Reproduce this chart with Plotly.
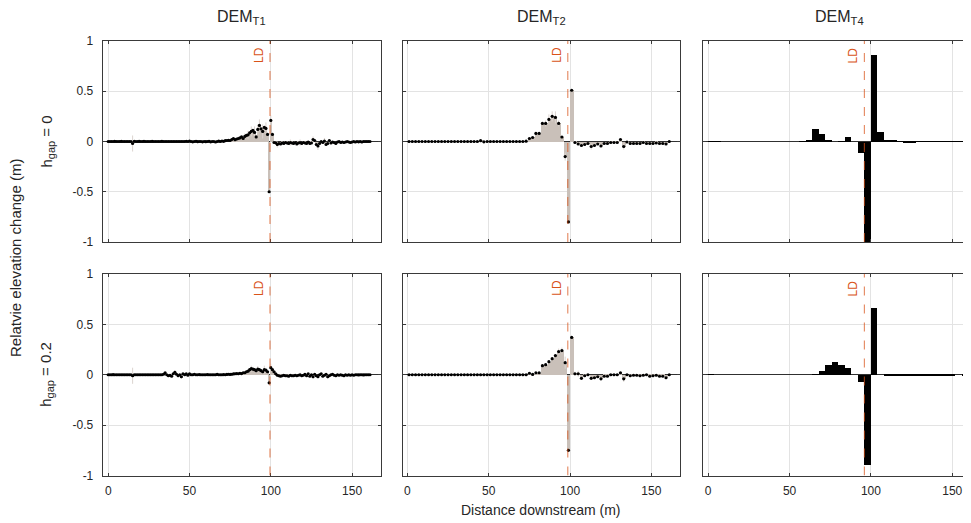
import plotly.graph_objects as go

# ---------------- data ----------------
col_titles = ["DEM<sub>T1</sub>", "DEM<sub>T2</sub>", "DEM<sub>T4</sub>"]
row_titles = ["h<sub><span style='font-size:11px'>gap</span></sub> = 0",
              "h<sub><span style='font-size:11px'>gap</span></sub> = 0.2"]
ld_pos = [99.5, 98.6, 96.0]

x_ticks = [0, 50, 100, 150]
x_tick_text = ["0", "50", "100", "150"]
y_ticks = [-1, -0.5, 0, 0.5, 1]
y_tick_text = ["-1", "-0.5", "0", "0.5", "1"]

# DEM_T1 : 1 m spacing
t1_x = list(range(0, 162))
t1_h0 = [
    0.0, 0.0, 0.0, 0.0, 0.001, 0.0, 0.0, 0.0, 0.001, 0.0,
    0.0, 0.0, 0.0, 0.0, 0.0, -0.02, 0.002, 0.0, 0.0, 0.001,
    0.0, 0.0, 0.001, 0.0, 0.0, 0.0, 0.0, 0.001, 0.0, 0.0,
    0.0, 0.0, 0.0, 0.001, 0.0, 0.0, 0.0, 0.0, 0.0, 0.0,
    0.0, 0.0, 0.0, 0.0, 0.0, 0.0, 0.0, 0.0, 0.002, 0.0,
    0.003, 0.0, -0.003, 0.0, 0.002, -0.002, 0.0, 0.0, -0.003, 0.0,
    -0.002, 0.0, 0.002, -0.003, 0.0, 0.0, -0.005, 0.0, 0.003, 0.0,
    0.005, 0.002, 0.008, 0.01, 0.012, 0.01, 0.02, 0.03, 0.018, 0.025,
    0.03, 0.036, 0.046, 0.03, 0.05, 0.06, 0.066, 0.086, 0.1, 0.11,
    0.09, 0.046, 0.12, 0.16, 0.126, 0.1, 0.14, 0.13, 0.07, -0.5,
    0.21, 0.07, -0.01, -0.013, -0.03, -0.02, -0.025, -0.015, -0.02, -0.01,
    -0.015, -0.02, -0.01, -0.015, -0.02, -0.01, -0.025, -0.015, -0.01, -0.02,
    -0.01, -0.015, -0.02, -0.005, -0.02, -0.015, 0.02, 0.01, -0.03, -0.045,
    -0.02, 0.0, -0.01, 0.005, -0.03, -0.02, 0.01, -0.015, -0.005, -0.01,
    -0.02, -0.005, 0.0, -0.01, -0.005, -0.01, -0.005, 0.0, -0.005, -0.01,
    -0.005, 0.0, -0.005, 0.0, -0.003, 0.0, -0.005, 0.0, 0.0, 0.0,
    0.0, 0.0,
]
t1_h02 = [
    0.0, 0.0, 0.0, 0.001, 0.0, 0.0, 0.0, 0.0, 0.0, 0.0,
    0.0, 0.0, 0.0, 0.0, 0.0, -0.01, 0.0, 0.0, 0.0, 0.0,
    0.0, 0.0, 0.0, 0.0, 0.0, 0.0, 0.0, 0.0, 0.0, 0.0,
    0.0, 0.0, 0.0, 0.0, 0.005, 0.02, 0.0, -0.01, -0.005, -0.015,
    0.01, 0.025, 0.005, -0.01, 0.0, -0.02, 0.01, 0.0, 0.01, -0.005,
    0.01, 0.0, 0.0, 0.005, 0.0, 0.0, 0.002, 0.0, 0.0, 0.0,
    0.0, 0.002, 0.0, 0.0, 0.0, 0.0, 0.0, 0.003, 0.0, 0.0,
    0.0, 0.002, 0.0, 0.003, 0.005, 0.003, 0.005, 0.008, 0.01, 0.012,
    0.01, 0.015, 0.012, 0.02, 0.02, 0.03, 0.035, 0.05, 0.06, 0.055,
    0.05, 0.04, 0.055, 0.05, 0.04, 0.03, 0.05, 0.045, 0.03, -0.08,
    0.07, 0.05, 0.03, 0.01, -0.005, -0.01, -0.015, -0.01, -0.005, -0.01,
    -0.01, -0.015, -0.005, -0.01, -0.01, -0.005, -0.01, -0.005, 0.0, -0.01,
    -0.005, 0.005, -0.01, 0.01, -0.015, 0.0, -0.02, 0.005, -0.01, -0.02,
    0.0, 0.01, -0.015, -0.005, 0.005, -0.02, -0.01, 0.0, 0.005, -0.005,
    -0.01, 0.0, -0.005, 0.0, -0.005, -0.01, 0.0, -0.005, 0.0, -0.005,
    0.0, -0.005, 0.0, 0.0, -0.002, 0.0, 0.0, -0.002, 0.0, 0.0,
    0.0, 0.0,
]
t1_h0_err_x = [15, 84, 86, 88, 90, 92, 93, 95, 97, 100, 104, 112, 118, 126, 129, 133]
t1_h0_err = [0.08, 0.03, 0.04, 0.05, 0.06, 0.05, 0.06, 0.07, 0.06, 0.05, 0.03, 0.03, 0.03, 0.03, 0.04, 0.03]
t1_h02_err_x = [15, 41, 45, 88, 92, 96, 100, 118, 126, 135]
t1_h02_err = [0.08, 0.02, 0.02, 0.03, 0.03, 0.04, 0.04, 0.02, 0.02, 0.02]

# DEM_T2 : 2 m spacing
t2_x = list(range(1, 162, 2))
t2_h0 = [
    0.0, 0.0, 0.0, 0.0, 0.0, 0.0, 0.0, 0.0, 0.0, 0.0,
    0.0, 0.0, 0.0, 0.0, 0.0, 0.0, 0.0, 0.0, 0.0, 0.0,
    0.0, 0.0, 0.008, -0.003, 0.0, 0.0, 0.0, 0.0, 0.0, 0.0,
    0.0, 0.0, 0.0, 0.0, 0.0, 0.0, 0.003, 0.03, 0.04, 0.08,
    0.08, 0.18, 0.18, 0.22, 0.25, 0.24, 0.18, 0.045, -0.15, -0.8,
    0.51, -0.01, -0.025, -0.04, -0.03, -0.02, -0.05, -0.04, -0.025, -0.045,
    -0.02, -0.02, -0.01, -0.01, -0.01, 0.02, -0.05, -0.005, -0.02, -0.02,
    -0.02, -0.02, -0.01, -0.02, -0.02, -0.02, -0.015, -0.02, -0.02, -0.025,
    0.0,
]
t2_h02 = [
    0.0, 0.0, 0.0, 0.0, 0.0, 0.0, 0.0, 0.0, 0.0, 0.0,
    0.0, 0.0, 0.0, 0.0, 0.0, 0.0, 0.0, 0.0, 0.0, 0.0,
    0.0, 0.0, 0.0, 0.0, 0.0, 0.0, 0.0, 0.0, 0.0, 0.0,
    0.0, 0.0, 0.0, 0.0, 0.0, 0.0, 0.0, 0.015, 0.003, 0.02,
    0.02, 0.09, 0.1, 0.13, 0.16, 0.19, 0.23, 0.24, 0.12, -0.75,
    0.37, 0.01, 0.01, -0.035, -0.01, 0.0, -0.035, -0.03, -0.02, -0.04,
    -0.015, -0.015, 0.0, 0.0, 0.0, 0.02, -0.04, 0.0, -0.01, -0.005,
    -0.005, -0.01, -0.005, 0.0, -0.015, -0.01, -0.005, -0.015, -0.015, -0.03,
    0.0,
]
t2_h0_err_x = [85, 87, 89, 91, 93, 97, 113, 133]
t2_h0_err = [0.03, 0.05, 0.05, 0.06, 0.03, 0.04, 0.03, 0.03]
t2_h02_err_x = [93, 95, 97, 103, 105, 133]
t2_h02_err = [0.03, 0.03, 0.06, 0.02, 0.03, 0.03]

# DEM_T4 : 4 m spacing
t4_x = list(range(2, 160, 4))
t4_h0 = [
    0.005, 0.003, 0.0, 0.0, 0.0, 0.0, 0.0, 0.0, 0.0, 0.0,
    0.0, 0.0, 0.0, 0.0, 0.005, 0.01, 0.12, 0.07, 0.01, 0.0,
    0.005, 0.04, 0.0, -0.11, -1.0, 0.86, 0.09, 0.015, 0.01, -0.005,
    -0.008, -0.008, -0.003, -0.005, -0.005, -0.005, -0.005, -0.004, -0.003, -0.005,
]
t4_h02 = [
    0.003, 0.0, 0.0, 0.0, 0.0, 0.0, 0.0, 0.0, 0.0, 0.0,
    0.0, 0.0, 0.0, 0.0, 0.0, 0.0, 0.005, 0.033, 0.1, 0.125,
    0.1, 0.066, 0.0, -0.073, -0.9, 0.667, 0.0, -0.008, -0.008, -0.008,
    -0.01, -0.008, -0.003, -0.005, -0.005, -0.005, -0.003, -0.003, 0.0, -0.003,
]

# ---------------- layout geometry ----------------
# the page body has an 8 px margin, so the figure is drawn from (8, 8)
OFF = 8
W, H = 971 - OFF, 523 - OFF
col_px = [(102.7, 380.7), (402.7, 680.0), (703.3, 971.0)]
row_px = [(41.0, 242.0), (274.0, 475.5)]
x_ranges = [[-3.4, 167.6], [-2.9, 167.6], [-3.0, 161.5]]
title_cx = [241.7, 541.3, 839.0]


def px_x(p):
    return (p - OFF) / W


def px_y(p):
    return 1 - (p - OFF) / H


FONT = "Liberation Sans, Arial, Helvetica, sans-serif"
AX = "#3a3a3a"
GRID = "#e3e3e3"
FILL = "#c9c0b9"
ERR = "#dcd4cf"
ORANGE = "#d95319"

fig = go.Figure()

panels = [
    (0, 0, t1_x, t1_h0, t1_h0_err_x, t1_h0_err, "dots", 1),
    (0, 1, t2_x, t2_h0, t2_h0_err_x, t2_h0_err, "dots", 2),
    (0, 2, t4_x, t4_h0, [], [], "bars", 4),
    (1, 0, t1_x, t1_h02, t1_h02_err_x, t1_h02_err, "dots", 1),
    (1, 1, t2_x, t2_h02, t2_h02_err_x, t2_h02_err, "dots", 2),
    (1, 2, t4_x, t4_h02, [], [], "bars", 4),
]

for i, (r, c, xs, ys, ex, ev, kind, bw) in enumerate(panels):
    n = i + 1
    xa = "x" if n == 1 else f"x{n}"
    ya = "y" if n == 1 else f"y{n}"
    if kind == "dots":
        fig.add_trace(go.Bar(x=xs, y=ys, width=bw, marker=dict(color=FILL, line=dict(width=0)),
                             xaxis=xa, yaxis=ya, showlegend=False, hoverinfo="skip"))
        emap = dict(zip(ex, ev))
        errs = [emap.get(v, 0.0) for v in xs]
        fig.add_trace(go.Scatter(x=xs, y=ys, mode="markers",
                                 marker=dict(color="black", size=3.2),
                                 error_y=dict(type="data", array=errs, visible=True,
                                              color=ERR, thickness=1, width=0),
                                 xaxis=xa, yaxis=ya, showlegend=False))
    else:
        fig.add_trace(go.Bar(x=xs, y=ys, width=bw, marker=dict(color="black", line=dict(width=0)),
                             xaxis=xa, yaxis=ya, showlegend=False))

    x0, x1 = col_px[c]
    ytop, ybot = row_px[r]
    xd = [max(0.0, px_x(x0)), min(1.0, px_x(x1))]
    yd = [px_y(ybot), px_y(ytop)]
    xkey = "xaxis" if n == 1 else f"xaxis{n}"
    ykey = "yaxis" if n == 1 else f"yaxis{n}"
    fig.layout[xkey] = dict(
        domain=xd, range=x_ranges[c], anchor=ya, automargin=False,
        tickvals=x_ticks, ticktext=x_tick_text, showticklabels=(r == 1),
        ticks="inside", ticklen=3, tickcolor=AX, tickwidth=1,
        showline=True, linecolor=AX, linewidth=1, mirror="allticks",
        showgrid=True, gridcolor=GRID, gridwidth=1, zeroline=False,
        tickfont=dict(family=FONT, size=12, color="#262626"),
        ticklabelstandoff=4,
    )
    fig.layout[ykey] = dict(
        domain=yd, range=[-1, 1], anchor=xa, automargin=False,
        tickvals=y_ticks, ticktext=y_tick_text, showticklabels=(c == 0),
        ticks="inside", ticklen=3, tickcolor=AX, tickwidth=1,
        showline=True, linecolor=AX, linewidth=1,
        mirror=("allticks" if c < 2 else False),
        showgrid=True, gridcolor=GRID, gridwidth=1,
        zeroline=True, zerolinecolor="#303030", zerolinewidth=1,
        tickfont=dict(family=FONT, size=12, color="#262626"),
        ticklabelstandoff=6,
    )
    fig.add_shape(type="line", xref=xa, yref=ya, x0=ld_pos[c], x1=ld_pos[c], y0=-1, y1=1,
                  line=dict(color="rgba(217,83,25,0.65)", width=1.2, dash="dash"), layer="above")
    fig.add_annotation(xref=xa, yref=ya, x=ld_pos[c], y=1, text="LD", textangle=-90,
                       showarrow=False, xanchor="right", yanchor="top", xshift=-2, yshift=-4,
                       font=dict(family=FONT, size=12, color=ORANGE))

for c, t in enumerate(col_titles):
    fig.add_annotation(xref="paper", yref="paper", x=px_x(title_cx[c]), y=px_y(18), text=t,
                       showarrow=False, xanchor="center", yanchor="middle",
                       font=dict(family=FONT, size=16, color="#262626"))

for r, t in enumerate(row_titles):
    ytop, ybot = row_px[r]
    fig.add_annotation(xref="paper", yref="paper", x=px_x(47), y=px_y((ytop + ybot) / 2), text=t,
                       textangle=-90, showarrow=False, xanchor="center", yanchor="middle",
                       font=dict(family=FONT, size=15, color="#262626"))

fig.add_annotation(xref="paper", yref="paper", x=px_x(15), y=px_y(258),
                   text="Relatvie elevation change (m)", textangle=-90, showarrow=False,
                   xanchor="center", yanchor="middle",
                   font=dict(family=FONT, size=15, color="#262626"))
fig.add_annotation(xref="paper", yref="paper", x=px_x(541), y=px_y(510),
                   text="Distance downstream (m)", showarrow=False,
                   xanchor="center", yanchor="middle",
                   font=dict(family=FONT, size=14, color="#262626"))

fig.update_layout(
    width=W, height=H, margin=dict(l=0, r=0, t=0, b=0, autoexpand=False),
    paper_bgcolor="white", plot_bgcolor="white",
    bargap=0, showlegend=False,
    font=dict(family=FONT, size=12, color="#262626"),
)

fig.write_html("out.html")
